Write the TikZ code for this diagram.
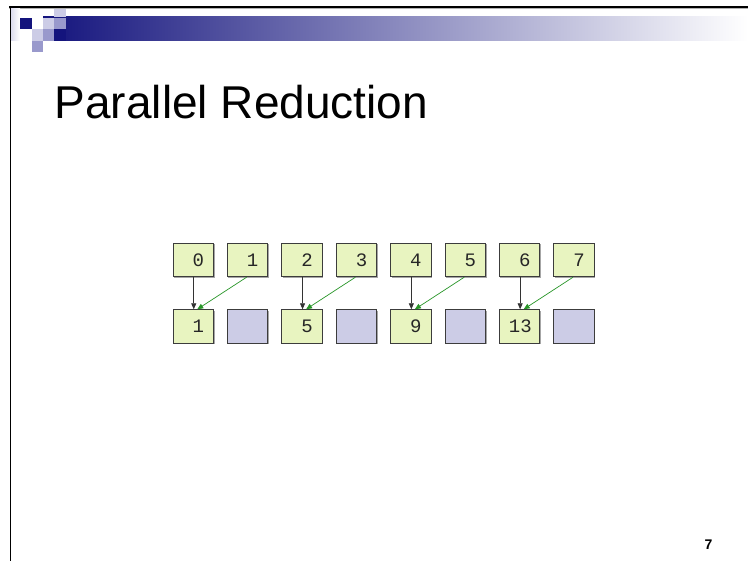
\documentclass[tikz,border=0pt]{standalone}
\usepackage{fontspec}
\setmainfont{Liberation Sans}
\newfontfamily\boxmono{Liberation Mono}
\usetikzlibrary{arrows.meta,shadows}
\definecolor{navy}{RGB}{20,20,125}
\definecolor{lav}{RGB}{204,204,230}
\definecolor{medlav}{RGB}{153,153,204}
\definecolor{boxgreen}{RGB}{232,244,192}
\definecolor{boxlav}{RGB}{204,204,230}
\definecolor{boxline}{RGB}{60,60,60}
\definecolor{grnline}{RGB}{40,150,40}
\tikzset{
  cell/.style={draw=boxline, line width=0.9pt, fill=boxgreen, minimum width=40.5pt, minimum height=33.5pt,
    inner xsep=9.5pt, inner ysep=0pt, text width=21.5pt, align=right,
    font=\boxmono\fontsize{19}{19}\selectfont, text=black!85,
    drop shadow={shadow xshift=1pt, shadow yshift=-1pt, fill=gray!70, opacity=1}},
  emptycell/.style={cell, fill=boxlav},
  blkarrow/.style={draw=black!80, line width=0.8pt, -{Triangle[length=6pt,width=5pt]}},
  grnarrow/.style={draw=grnline, line width=0.7pt, -{Triangle[length=6pt,width=5pt]}},
  sq/.style={draw=none}
}
\begin{document}
\begin{tikzpicture}[x=1pt,y=-1pt]
\useasboundingbox (0,0) rectangle (748,561);
\fill[white] (0,0) rectangle (748,561);
% header frame
\fill[gray!60] (9,8) rectangle (748,9.2);
\fill[black] (9,6) rectangle (748,8);
\fill[black] (9.5,6) rectangle (11,561);
% faint left gradient
\shade[left color=lav!70, right color=white, sq] (11,9) rectangle (20,41);
% gradient bar
\shade[left color=navy, middle color={rgb,255:red,165;green,165;blue,192}, right color=white, sq] (43,17) rectangle (748,41);
% squares
\fill[navy] (20,18) rectangle (32,29);
\fill[lav] (43,18) rectangle (54,29);
\fill[lav] (54,9) rectangle (66,17);
\fill[medlav] (54,18) rectangle (66,29);
\fill[medlav] (43,29) rectangle (54,41);
\fill[navy] (54,29) rectangle (66,41);
\fill[lav] (32,29) rectangle (43,41);
\fill[medlav] (32,41) rectangle (43,52);
% title
\node[anchor=base west, inner sep=0pt, font=\fontsize{46}{46}\selectfont] (title) at (54.5,119) {Parallel Reduction};
% boxes
\foreach \i/\v in {0/0,1/1,2/2,3/3,4/4,5/5,6/6,7/7} {
  \node[cell] (t\i) at ({193.25+54.4*\i},260) {\v};
}
\node[cell] (b0) at ({193.25+54.4*0},326.5) {1};
\node[emptycell] (b1) at ({193.25+54.4*1},326.5) {};
\node[cell] (b2) at ({193.25+54.4*2},326.5) {5};
\node[emptycell] (b3) at ({193.25+54.4*3},326.5) {};
\node[cell] (b4) at ({193.25+54.4*4},326.5) {9};
\node[emptycell] (b5) at ({193.25+54.4*5},326.5) {};
\node[cell] (b6) at ({193.25+54.4*6},326.5) {13};
\node[emptycell] (b7) at ({193.25+54.4*7},326.5) {};
% connectors
\foreach \a/\b in {0/0,2/2,4/4,6/6} {
  \draw[blkarrow] ([xshift=0.5pt]t\a.south) -- ([xshift=0.5pt]b\b.north);
}
\foreach \a/\b in {1/0,3/2,5/4,7/6} {
  \draw[grnarrow] ([xshift=-1pt]t\a.south) -- ([xshift=4pt]b\b.north);
}
% page number
\node[anchor=base, inner sep=0pt, font=\bfseries\fontsize{14}{14}\selectfont] (pagenum) at (708.5,549.5) {7};
\end{tikzpicture}
\end{document}
